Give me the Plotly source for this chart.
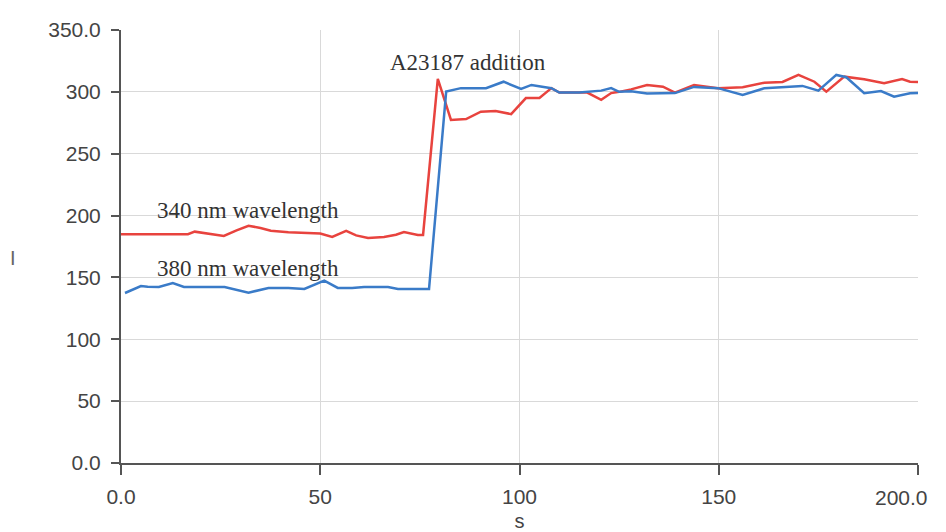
import plotly.graph_objects as go

# 340 nm wavelength trace
t_340 = [0, 16.8, 18.5, 25.8, 29, 32, 35, 37.6, 42, 46, 50, 53, 56.5, 59, 62, 66, 69, 71, 74.5, 75.8,
         79.5, 82.8, 86.6, 90.3, 94, 97.9, 101.6, 105, 108, 110, 117, 120.5, 123, 125, 128, 132, 136,
         139, 143.8, 149.8, 156, 161.4, 166, 170, 174, 177, 181.5, 186.5, 191.5, 196, 198, 200]
i_340 = [185, 185, 187, 183.5, 188, 191.8, 190, 187.8, 186.5, 185.9, 185.5, 182.7, 187.6, 184, 181.9, 182.7, 184.5, 186.7, 184.3, 184.3,
         310.4, 277.3, 278, 284, 284.6, 282, 295, 295, 303, 299.4, 299.4, 293.5, 299, 300, 302, 305.6, 304.2,
         299.4, 305.6, 303, 303.7, 307.4, 308, 313.7, 308.2, 300.2, 312.3, 310.2, 307, 310.4, 308.2, 308]

# 380 nm wavelength trace
t_380 = [1, 3, 5, 6.7, 9.5, 13, 15.8, 20, 26, 32, 37, 42, 46, 51, 54.4, 58, 61, 67, 69.5, 73, 77.3,
         81.6, 85.3, 91.6, 96, 100.4, 103, 108, 110, 115, 120.5, 123, 125, 128, 132, 139, 143.8, 149.8,
         152, 156, 161.4, 167, 171, 175, 179.5, 182, 186.5, 190.7, 194, 198, 200]
i_380 = [137.4, 140.5, 143, 142.5, 142.3, 145.5, 142.3, 142.3, 142.3, 137.7, 141.5, 141.5, 140.7, 147.4, 141.5, 141.5, 142.3, 142.3, 140.7, 140.7, 140.7,
         300.2, 303, 303, 308.2, 302.3, 305.6, 303, 299.4, 299.4, 301, 303, 300, 300.5, 298.6, 299, 304, 303,
         301, 297.5, 302.9, 304.2, 304.8, 301, 313.7, 311.8, 298.9, 300.7, 296.1, 298.9, 299]

x_ticks = [0, 50, 100, 150, 200]
x_tick_text = ["0.0", "50", "100", "150", ""]
x_last_label = "200.0"
y_ticks = [0, 50, 100, 150, 200, 250, 300, 350]
y_tick_text = ["0.0", "50", "100", "150", "200", "250", "300", "350.0"]

RED = "#e8433e"
BLUE = "#3a7bc8"
AXIS = "#555555"
GRID = "#d9d9d9"
TICKFONT = dict(family="Liberation Sans, Arial, sans-serif", size=21, color="#444444")
SERIF = dict(family="Liberation Serif, Times New Roman, serif", size=23, color="#333333")

fig = go.Figure()
fig.add_trace(go.Scatter(x=t_340, y=i_340, mode="lines", name="340 nm",
                         line=dict(color=RED, width=2.5), showlegend=False))
fig.add_trace(go.Scatter(x=t_380, y=i_380, mode="lines", name="380 nm",
                         line=dict(color=BLUE, width=2.5), showlegend=False))

fig.add_annotation(x=8.5, y=204.5, xref="x", yref="y", text="340 nm wavelength",
                   showarrow=False, xanchor="left", yanchor="middle", font=SERIF)
fig.add_annotation(x=8.5, y=157.6, xref="x", yref="y", text="380 nm wavelength",
                   showarrow=False, xanchor="left", yanchor="middle", font=SERIF)
fig.add_annotation(x=67, y=324, xref="x", yref="y", text="A23187 addition",
                   showarrow=False, xanchor="left", yanchor="middle", font=SERIF)
fig.add_annotation(x=-0.135, y=0.473, xref="paper", yref="paper", text="I",
                   showarrow=False, xanchor="center", yanchor="middle",
                   font=dict(family="Liberation Sans, Arial, sans-serif", size=20, color="#666666"))
# last x tick label, pulled inward as in the original
fig.add_annotation(x=x_ticks[-1], y=0, xref="x", yref="paper", text=x_last_label,
                   showarrow=False, xanchor="center", yanchor="middle",
                   xshift=-17, yshift=-34, font=TICKFONT)

fig.update_layout(
    width=946, height=532,
    margin=dict(l=121, r=28, t=30, b=69),
    paper_bgcolor="white", plot_bgcolor="white",
    font=TICKFONT,
)
fig.update_xaxes(
    range=[0, 200], tickvals=x_ticks, ticktext=x_tick_text, automargin=False,
    showline=True, linecolor=AXIS, linewidth=2,
    ticks="outside", ticklen=10, tickwidth=2, tickcolor=AXIS,
    showgrid=True, gridcolor=GRID, gridwidth=1, zeroline=False,
    tickfont=TICKFONT, ticklabelstandoff=4,
    title=dict(text="s", font=dict(family="Liberation Sans, Arial, sans-serif", size=20, color="#444444"), standoff=8),
)
fig.update_yaxes(
    range=[0, 350], tickvals=y_ticks, ticktext=y_tick_text, automargin=False,
    showline=True, linecolor=AXIS, linewidth=2,
    ticks="outside", ticklen=8, tickwidth=2, tickcolor=AXIS,
    showgrid=True, gridcolor=GRID, gridwidth=1, zeroline=False,
    tickfont=TICKFONT, ticklabelstandoff=6,
)

fig.write_html("out.html")
